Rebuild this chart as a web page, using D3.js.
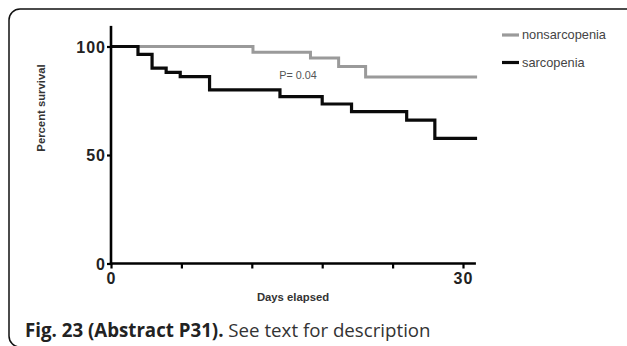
<!DOCTYPE html>
<html>
<head>
<meta charset="utf-8">
<script src="https://cdn.jsdelivr.net/npm/d3@7"></script>
<style>
  html, body { margin: 0; padding: 0; background: #fff; }
  svg { display: block; }
</style>
</head>
<body>
<svg id="chart" width="627" height="346"></svg>
<script>
// Kaplan–Meier survival steps: days at which survival drops, and survival (%) after each drop
const nonsarcDays = [0, 12.1, 17.0, 19.4, 21.7, 31.2];
const nonsarcSurvival = [100, 97.4, 94.7, 90.8, 85.9, 85.9];
const sarcDays = [0, 2.3, 3.5, 4.7, 5.9, 8.4, 14.4, 18.0, 20.5, 25.2, 27.6, 31.2];
const sarcSurvival = [100, 96.4, 90.0, 88.1, 86.1, 80.0, 76.9, 73.5, 70.0, 66.1, 57.7, 57.7];

const seriesNames = ["nonsarcopenia", "sarcopenia"];
const xTicks = [0, 6, 12, 18, 24, 30];
const xTickLabels = ["0", "", "", "", "", "30"];
const yTicks = [0, 50, 100];
const yTickLabels = ["0", "50", "100"];
const pValueText = "P= 0.04";

const svg = d3.select("#chart");

// figure frame with rounded corners
svg.append("rect")
  .attr("x", 9).attr("y", 9)
  .attr("width", 640).attr("height", 338)
  .attr("rx", 11).attr("ry", 11)
  .attr("fill", "none").attr("stroke", "#111").attr("stroke-width", 1.5);

const x = d3.scaleLinear().domain([0, 30]).range([111, 463]);
const y = d3.scaleLinear().domain([0, 100]).range([263.5, 46.5]);

const line = d3.line()
  .x(d => x(d[0]))
  .y(d => y(d[1]))
  .curve(d3.curveStepAfter);

const series = [
  { name: seriesNames[0], days: nonsarcDays, surv: nonsarcSurvival, color: "#9a9a9a", width: 3 },
  { name: seriesNames[1], days: sarcDays, surv: sarcSurvival, color: "#0a0a0a", width: 3.2 }
];

series.forEach(s => {
  svg.append("path")
    .datum(d3.zip(s.days, s.surv))
    .attr("d", line)
    .attr("fill", "none")
    .attr("stroke", s.color)
    .attr("stroke-width", s.width)
    .attr("stroke-linejoin", "miter")
    .attr("stroke-linecap", "butt");
});

// axes
const yAxis = d3.axisLeft(y)
  .tickValues(yTicks)
  .tickFormat((d, i) => yTickLabels[i])
  .tickSize(4).tickPadding(1);
const gy = svg.append("g").attr("transform", `translate(${x(0)},0)`).call(yAxis);
gy.select(".domain").remove();
gy.append("line")
  .attr("x1", 0).attr("x2", 0)
  .attr("y1", y(109.5)).attr("y2", y(0) + 1.2)
  .attr("stroke", "#000").attr("stroke-width", 2.6);

const xAxis = d3.axisBottom(x)
  .tickValues(xTicks)
  .tickFormat((d, i) => xTickLabels[i])
  .tickSize(5).tickPadding(4);
const gx = svg.append("g").attr("transform", `translate(0,${y(0)})`).call(xAxis);
gx.select(".domain").remove();
gx.append("line")
  .attr("x1", x(0) - 1.2).attr("x2", x(31.1))
  .attr("y1", 0).attr("y2", 0)
  .attr("stroke", "#000").attr("stroke-width", 2.6);

[gx, gy].forEach(g => {
  g.selectAll(".tick line").attr("stroke", "#000").attr("stroke-width", 2.2);
  g.selectAll(".tick text")
    .attr("fill", "#222")
    .style("font-family", "Arial, 'Liberation Sans', sans-serif")
    .style("font-weight", "bold")
    .style("font-size", "16px")
    .style("letter-spacing", "1px");
});
gy.selectAll(".tick text").attr("dy", "0.36em");

// axis titles
svg.append("text")
  .attr("transform", `translate(45,${108}) rotate(-90)`)
  .attr("text-anchor", "middle")
  .style("font-family", "Arial, 'Liberation Sans', sans-serif")
  .style("font-weight", "bold")
  .style("font-size", "11.3px")
  .attr("fill", "#333")
  .text("Percent survival");

svg.append("text")
  .attr("x", 293).attr("y", 301)
  .attr("text-anchor", "middle")
  .style("font-family", "Arial, 'Liberation Sans', sans-serif")
  .style("font-weight", "bold")
  .style("font-size", "11.3px")
  .attr("fill", "#333")
  .text("Days elapsed");

// p-value annotation
svg.append("text")
  .attr("x", 298).attr("y", 78.8)
  .attr("text-anchor", "middle")
  .style("font-family", "Arial, 'Liberation Sans', sans-serif")
  .style("font-size", "10.8px")
  .attr("fill", "#555")
  .text(pValueText);

// legend
const legend = svg.append("g");
series.forEach((s, i) => {
  const ly = 35 + i * 27.5;
  legend.append("line")
    .attr("x1", 502).attr("x2", 519)
    .attr("y1", ly).attr("y2", ly)
    .attr("stroke", s.color).attr("stroke-width", 3.2);
  legend.append("text")
    .attr("x", 522).attr("y", ly + 4.3)
    .style("font-family", "Arial, 'Liberation Sans', sans-serif")
    .style("font-size", "12.8px")
    .attr("fill", "#444")
    .text(s.name);
});

// caption
const cap = svg.append("text")
  .attr("x", 25).attr("y", 337)
  .style("font-family", "'Open Sans', 'Noto Sans', sans-serif")
  .style("font-size", "18.7px")
  .attr("fill", "#222");
cap.append("tspan").style("font-weight", "bold").text("Fig. 23 (Abstract P31).");
cap.append("tspan").attr("fill", "#333").text(" See text for description");
</script>
</body>
</html>
